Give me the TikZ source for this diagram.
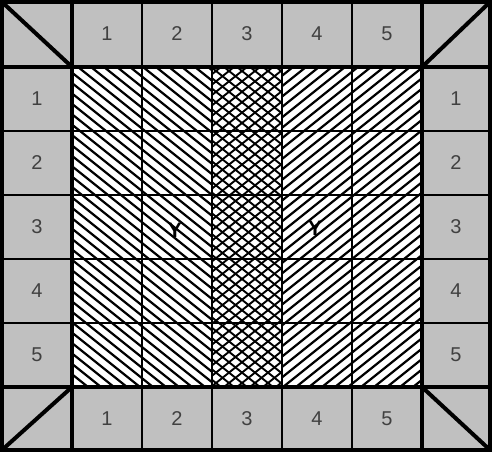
\documentclass[tikz,border=0pt]{standalone}
\usepackage{fontspec}
\setmainfont{Liberation Sans}
\definecolor{cellgray}{HTML}{C0C0C0}
\tikzset{
  headlabel/.style={font=\fontsize{20}{22}\selectfont, text=black!75},
  zonelabel/.style={font=\fontsize{21}{23}\selectfont\bfseries, inner sep=0pt},
  hatchline/.style={line width=2.2pt},
  crossline/.style={line width=1.9pt},
  thingrid/.style={line width=1.8pt},
  thickgrid/.style={line width=4.5pt},
}

\begin{document}
\begin{tikzpicture}[x=1pt,y=-1pt]
\useasboundingbox (0,0) rectangle (492,454);
% frame and field
\fill[cellgray] (2,2) rectangle (490,450);
\fill[white] (72,67) rectangle (422,387);
% hatching, columns 1-2
\begin{scope}
\clip (72,67) rectangle (212,387);
\foreach \i in {-403,-390,...,220} \draw[hatchline] (\i,67) -- ++(400,320);
\end{scope}
% cross hatching, column 3
\begin{scope}
\clip (212,67) rectangle (282,387);
\foreach \i in {-400,-387,...,290} {
  \draw[crossline] (\i,67) -- ++(400,320);
  \draw[crossline] (\i,387) -- ++(400,-320);
}
\end{scope}
% hatching, columns 4-5
\begin{scope}
\clip (282,67) rectangle (422,387);
\foreach \i in {-120,-107,...,430} \draw[hatchline] (\i,387) -- ++(400,-320);
\end{scope}
% grid
\foreach \x in {142,212,282,352} \draw[thingrid] (\x,2) -- (\x,450);
\foreach \y in {131,195,259,323} \draw[thingrid] (2,\y) -- (490,\y);
\foreach \x in {72,422} \draw[thickgrid] (\x,2) -- (\x,450);
\foreach \y in {67,387} \draw[thickgrid] (2,\y) -- (490,\y);
\draw[thickgrid] (2,2) rectangle (490,450);
% corners
\draw[line width=4pt] (2,2) -- (72,67);
\draw[line width=4pt] (422,67) -- (490,2);
\draw[line width=4pt] (2,450) -- (72,387);
\draw[line width=4pt] (422,387) -- (490,450);
% numbers
\foreach \n/\x in {1/107,2/177,3/247,4/317,5/387} {
  \node[headlabel] (top\n) at (\x,34) {\n};
  \node[headlabel] (bot\n) at (\x,419) {\n};
}
\foreach \n/\y in {1/99,2/163,3/227,4/291,5/355} {
  \node[headlabel] (left\n) at (37,\y) {\n};
  \node[headlabel] (right\n) at (456,\y) {\n};
}
\node[zonelabel] (zoneA) at (175,230) {Y};
\node[zonelabel] (zoneB) at (315,228) {Y};
\end{tikzpicture}
\end{document}
